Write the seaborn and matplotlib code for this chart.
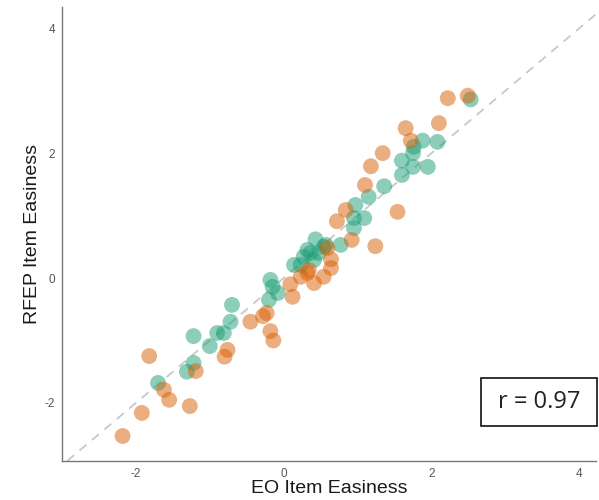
import matplotlib
matplotlib.use("Agg")
import matplotlib.pyplot as plt
from matplotlib.patches import Rectangle
import seaborn as sns
import pandas as pd

# green group (EO vs RFEP item easiness)
green_x = [-1.70, -1.31, -1.22, -1.22, -1.00, -0.90, -0.81, -0.72, -0.70,
           -0.20, -0.18, -0.15, -0.08, 0.14, 0.23, 0.27, 0.32, 0.36, 0.41,
           0.43, 0.47, 0.54, 0.57, 0.77, 0.95, 0.95, 0.97, 1.09, 1.15, 1.36,
           1.60, 1.60, 1.75, 1.75, 1.76, 1.88, 1.95, 2.08, 2.53]
green_y = [-1.68, -1.50, -1.36, -0.93, -1.09, -0.88, -0.88, -0.70, -0.43,
           -0.35, -0.03, -0.14, -0.24, 0.21, 0.21, 0.34, 0.45, 0.40, 0.29,
           0.62, 0.40, 0.50, 0.53, 0.53, 0.80, 0.96, 1.17, 0.96, 1.30, 1.47,
           1.65, 1.88, 1.78, 2.00, 2.10, 2.20, 1.78, 2.18, 2.86]

# orange group
orange_x = [-2.18, -1.92, -1.82, -1.62, -1.55, -1.27, -1.19, -0.80, -0.76,
            -0.45, -0.28, -0.23, -0.18, -0.14, 0.09, 0.12, 0.23, 0.32, 0.34,
            0.41, 0.54, 0.59, 0.64, 0.64, 0.72, 0.84, 0.92, 1.10, 1.18, 1.24,
            1.34, 1.54, 1.65, 1.72, 2.10, 2.22, 2.49]
orange_y = [-2.53, -2.16, -1.25, -1.79, -1.95, -2.05, -1.49, -1.26, -1.15,
            -0.70, -0.61, -0.56, -0.85, -1.00, -0.10, -0.30, 0.02, 0.08, 0.13,
            -0.08, 0.02, 0.48, 0.30, 0.16, 0.91, 1.09, 0.61, 1.49, 1.79, 0.51,
            2.00, 1.06, 2.40, 2.20, 2.48, 2.88, 2.92]

r_text = "r = 0.97"

df = pd.DataFrame({
    "EO": green_x + orange_x,
    "RFEP": green_y + orange_y,
    "group": ["green"] * len(green_x) + ["orange"] * len(orange_x),
})

sns.set_style("white")
plt.rcParams["font.family"] = ["Liberation Sans", "DejaVu Sans"]
plt.rcParams["axes.unicode_minus"] = False

fig = plt.figure(figsize=(5.99, 5.0), dpi=100)
ax = fig.add_axes([0.1035, 0.078, 0.892, 0.908])

ax.axline((0, 0), slope=1, color="#c8c8c8", linestyle=(0, (5, 4)), linewidth=1.3, zorder=1)

sns.scatterplot(data=df, x="EO", y="RFEP", hue="group",
                palette={"green": "#1b9e77", "orange": "#d95f02"},
                s=130, alpha=0.5, edgecolor="none", legend=False, ax=ax, zorder=2)

ax.set_xlim(-3.0, 4.23)
ax.set_ylim(-2.93, 4.34)
ax.set_xticks([-2, 0, 2, 4])
ax.set_yticks([-2, 0, 2, 4])
ax.set_xlabel("EO Item Easiness", fontsize=14, color="#1a1a1a", labelpad=0)
ax.set_ylabel("RFEP Item Easiness", fontsize=14, color="#1a1a1a", labelpad=3)
ax.tick_params(axis="both", labelsize=8.5, colors="#555555", length=3, width=0.8, pad=2)

for side in ["top", "right"]:
    ax.spines[side].set_visible(False)
for side in ["left", "bottom"]:
    ax.spines[side].set_color("#777777")
    ax.spines[side].set_linewidth(1.0)

# boxed correlation label, drawn on top of the figure
fig.patches.append(Rectangle((0.803, 0.148), 0.194, 0.096, transform=fig.transFigure,
                             facecolor="white", edgecolor="#111111", linewidth=1.2,
                             zorder=5))
fig.text(0.901, 0.196, r_text, fontsize=17, family=["Open Sans", "DejaVu Sans"],
         ha="center", va="center", color="#222222", zorder=6)

fig.savefig("out.png", dpi=100)
